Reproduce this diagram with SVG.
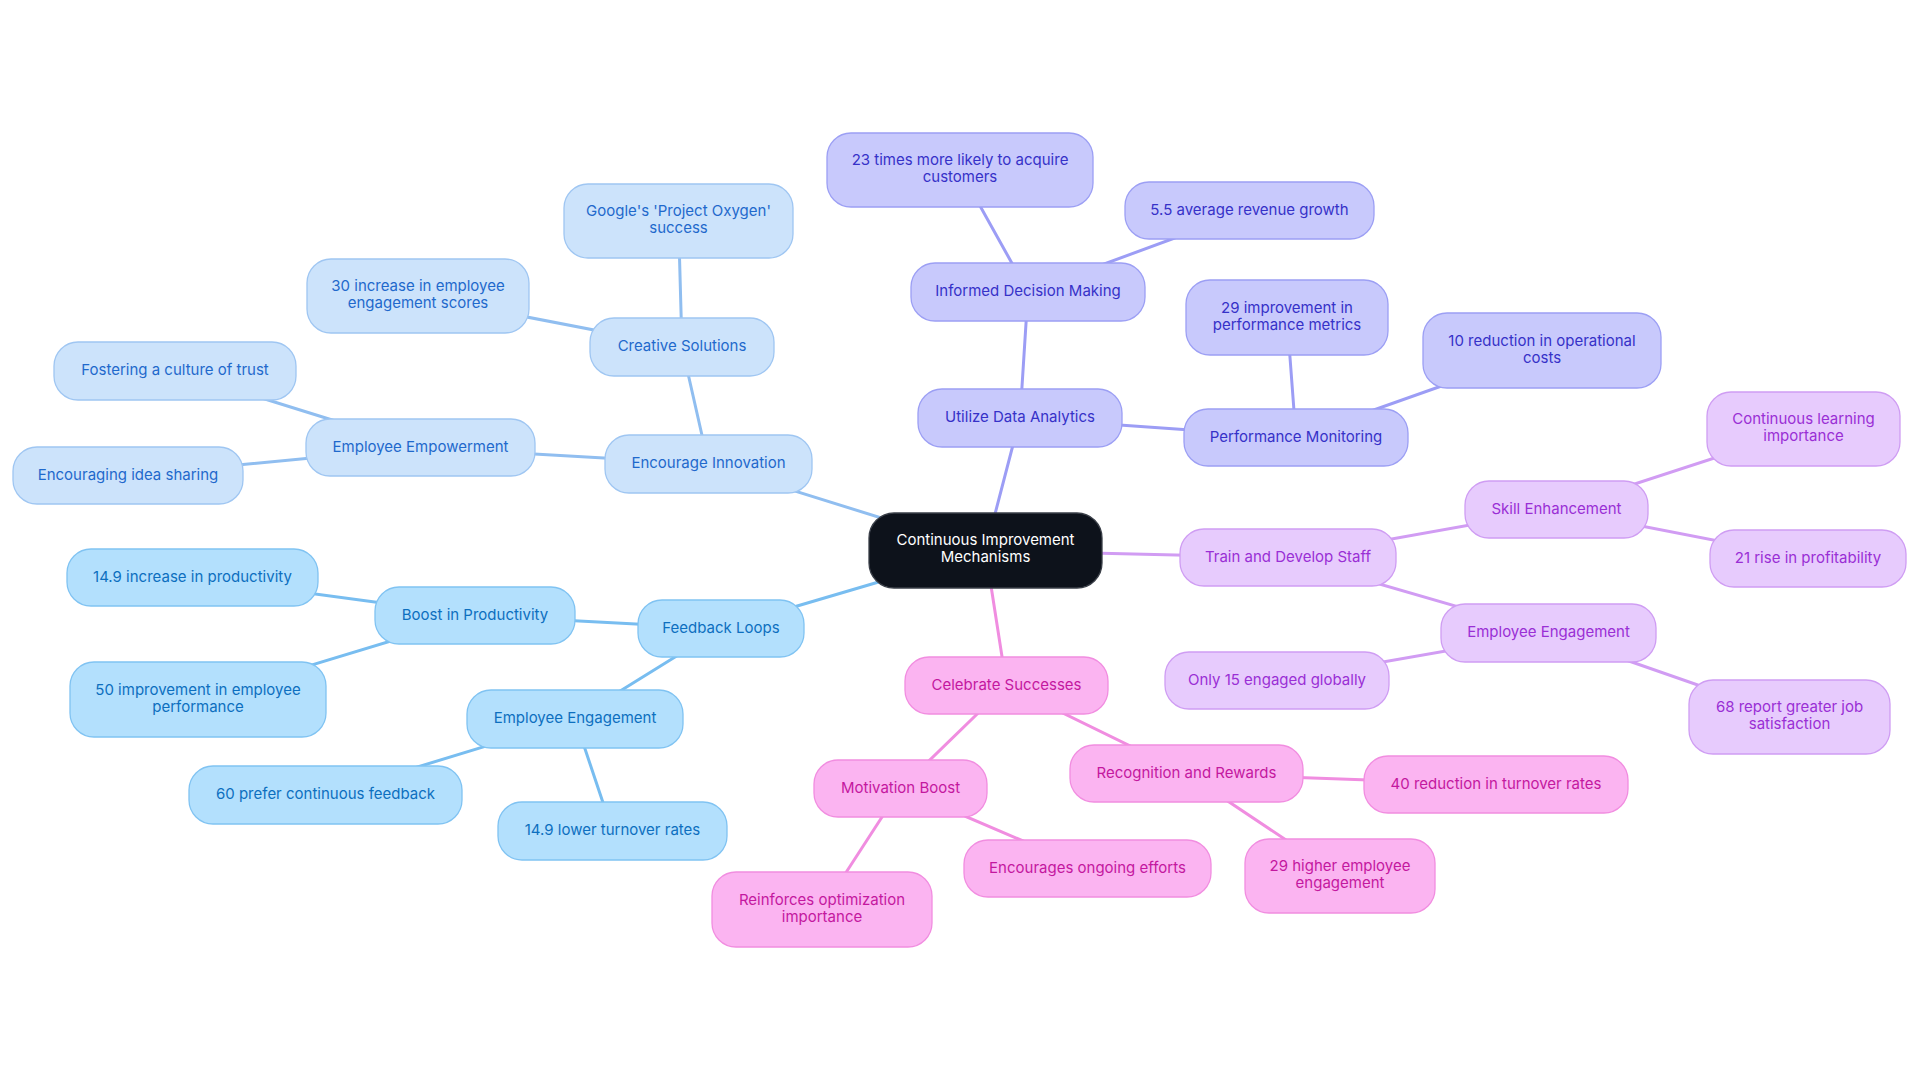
<svg xmlns="http://www.w3.org/2000/svg" width="1920" height="1083" viewBox="0 0 1920 1083">
<style>
text{font-family:Inter,"Open Sans","Liberation Sans",sans-serif;font-size:15px;text-anchor:middle}
g>text{transform:translateY(-1px)}
rect{stroke-width:1.3}
.c0 rect{fill:#0d121b;stroke:#3a3f48}.c0 text{fill:#ffffff}
.c1 rect{fill:#cce3fb;stroke:#9fc6f2}.c1 text{fill:#1f69cc}
.c2 rect{fill:#b3e0fd;stroke:#80c3f2}.c2 text{fill:#0d6fbf}
.c3 rect{fill:#c8c9fc;stroke:#9c9ff4}.c3 text{fill:#3631c8}
.c4 rect{fill:#e7cbfd;stroke:#cf9df3}.c4 text{fill:#9a2fd5}
.c5 rect{fill:#fbb4f1;stroke:#f18de0}.c5 text{fill:#c4189f}
#edges line{stroke-width:3;stroke-linecap:round}
.e1{stroke:#90bef0}.e2{stroke:#78bdf0}.e3{stroke:#9c9df5}.e4{stroke:#d19cf3}.e5{stroke:#f08de0}
</style>
<rect width="1920" height="1083" fill="#ffffff"/>
<g id="edges">
<line class="e1" x1="985.5" y1="550.5" x2="708.5" y2="464"/>
<line class="e1" x1="708.5" y1="464" x2="682" y2="347"/>
<line class="e1" x1="708.5" y1="464" x2="420.5" y2="447.5"/>
<line class="e1" x1="682" y1="347" x2="418" y2="296"/>
<line class="e1" x1="682" y1="347" x2="678.5" y2="221"/>
<line class="e1" x1="420.5" y1="447.5" x2="175" y2="371"/>
<line class="e1" x1="420.5" y1="447.5" x2="128" y2="475.5"/>
<line class="e2" x1="985.5" y1="550.5" x2="721" y2="628.5"/>
<line class="e2" x1="721" y1="628.5" x2="475" y2="615.5"/>
<line class="e2" x1="721" y1="628.5" x2="575" y2="719"/>
<line class="e2" x1="475" y1="615.5" x2="192.5" y2="577.5"/>
<line class="e2" x1="475" y1="615.5" x2="198" y2="699.5"/>
<line class="e2" x1="575" y1="719" x2="325.5" y2="795"/>
<line class="e2" x1="575" y1="719" x2="612.5" y2="831"/>
<line class="e3" x1="985.5" y1="550.5" x2="1020" y2="418"/>
<line class="e3" x1="1020" y1="418" x2="1028" y2="292"/>
<line class="e3" x1="1020" y1="418" x2="1296" y2="437.5"/>
<line class="e3" x1="1028" y1="292" x2="960" y2="170"/>
<line class="e3" x1="1028" y1="292" x2="1249.5" y2="210.5"/>
<line class="e3" x1="1296" y1="437.5" x2="1287" y2="317.5"/>
<line class="e3" x1="1296" y1="437.5" x2="1542" y2="350.5"/>
<line class="e4" x1="985.5" y1="550.5" x2="1288" y2="557.5"/>
<line class="e4" x1="1288" y1="557.5" x2="1556.5" y2="509.5"/>
<line class="e4" x1="1288" y1="557.5" x2="1548.5" y2="633"/>
<line class="e4" x1="1556.5" y1="509.5" x2="1803.5" y2="429"/>
<line class="e4" x1="1556.5" y1="509.5" x2="1808" y2="558.5"/>
<line class="e4" x1="1548.5" y1="633" x2="1277" y2="680.5"/>
<line class="e4" x1="1548.5" y1="633" x2="1789.5" y2="717"/>
<line class="e5" x1="985.5" y1="550.5" x2="1006.5" y2="685.5"/>
<line class="e5" x1="1006.5" y1="685.5" x2="900.5" y2="788.5"/>
<line class="e5" x1="1006.5" y1="685.5" x2="1186.5" y2="773.5"/>
<line class="e5" x1="1186.5" y1="773.5" x2="1496" y2="784.5"/>
<line class="e5" x1="1186.5" y1="773.5" x2="1340" y2="876"/>
<line class="e5" x1="900.5" y1="788.5" x2="1087.5" y2="868.5"/>
<line class="e5" x1="900.5" y1="788.5" x2="822" y2="909.5"/>
</g>
<g id="root" class="c0"><rect x="869" y="513" width="233" height="75" rx="25"/><text x="985.5" y="546">Continuous Improvement</text><text x="985.5" y="563">Mechanisms</text></g>
<g id="encourage-innovation" class="c1"><rect x="605" y="435" width="207" height="58" rx="24"/><text x="708.5" y="469">Encourage Innovation</text></g>
<g id="creative-solutions" class="c1"><rect x="590" y="318" width="184" height="58" rx="24"/><text x="682" y="352">Creative Solutions</text></g>
<g id="employee-empowerment" class="c1"><rect x="306" y="419" width="229" height="57" rx="24"/><text x="420.5" y="452.5">Employee Empowerment</text></g>
<g id="fostering-trust" class="c1"><rect x="54" y="342" width="242" height="58" rx="24"/><text x="175" y="376">Fostering a culture of trust</text></g>
<g id="idea-sharing" class="c1"><rect x="13" y="447" width="230" height="57" rx="24"/><text x="128" y="480.5">Encouraging idea sharing</text></g>
<g id="engagement-scores" class="c1"><rect x="307" y="259" width="222" height="74" rx="24"/><text x="418" y="292">30 increase in employee</text><text x="418" y="309">engagement scores</text></g>
<g id="project-oxygen" class="c1"><rect x="564" y="184" width="229" height="74" rx="24"/><text x="678.5" y="217">Google's 'Project Oxygen'</text><text x="678.5" y="234">success</text></g>
<g id="feedback-loops" class="c2"><rect x="638" y="600" width="166" height="57" rx="24"/><text x="721" y="633.5">Feedback Loops</text></g>
<g id="boost-productivity" class="c2"><rect x="375" y="587" width="200" height="57" rx="24"/><text x="475" y="620.5">Boost in Productivity</text></g>
<g id="increase-productivity" class="c2"><rect x="67" y="549" width="251" height="57" rx="24"/><text x="192.5" y="582.5">14.9 increase in productivity</text></g>
<g id="improvement-performance" class="c2"><rect x="70" y="662" width="256" height="75" rx="24"/><text x="198" y="696">50 improvement in employee</text><text x="198" y="713">performance</text></g>
<g id="employee-engagement-fb" class="c2"><rect x="467" y="690" width="216" height="58" rx="24"/><text x="575" y="724">Employee Engagement</text></g>
<g id="prefer-feedback" class="c2"><rect x="189" y="766" width="273" height="58" rx="24"/><text x="325.5" y="800">60 prefer continuous feedback</text></g>
<g id="lower-turnover" class="c2"><rect x="498" y="802" width="229" height="58" rx="24"/><text x="612.5" y="836">14.9 lower turnover rates</text></g>
<g id="data-analytics" class="c3"><rect x="918" y="389" width="204" height="58" rx="24"/><text x="1020" y="423">Utilize Data Analytics</text></g>
<g id="decision-making" class="c3"><rect x="911" y="263" width="234" height="58" rx="24"/><text x="1028" y="297">Informed Decision Making</text></g>
<g id="acquire-customers" class="c3"><rect x="827" y="133" width="266" height="74" rx="24"/><text x="960" y="166">23 times more likely to acquire</text><text x="960" y="183">customers</text></g>
<g id="revenue-growth" class="c3"><rect x="1125" y="182" width="249" height="57" rx="24"/><text x="1249.5" y="215.5">5.5 average revenue growth</text></g>
<g id="performance-monitoring" class="c3"><rect x="1184" y="409" width="224" height="57" rx="24"/><text x="1296" y="442.5">Performance Monitoring</text></g>
<g id="performance-metrics" class="c3"><rect x="1186" y="280" width="202" height="75" rx="24"/><text x="1287" y="314">29 improvement in</text><text x="1287" y="331">performance metrics</text></g>
<g id="operational-costs" class="c3"><rect x="1423" y="313" width="238" height="75" rx="24"/><text x="1542" y="347">10 reduction in operational</text><text x="1542" y="364">costs</text></g>
<g id="train-develop" class="c4"><rect x="1180" y="529" width="216" height="57" rx="24"/><text x="1288" y="562.5">Train and Develop Staff</text></g>
<g id="skill-enhancement" class="c4"><rect x="1465" y="481" width="183" height="57" rx="24"/><text x="1556.5" y="514.5">Skill Enhancement</text></g>
<g id="continuous-learning" class="c4"><rect x="1707" y="392" width="193" height="74" rx="24"/><text x="1803.5" y="425">Continuous learning</text><text x="1803.5" y="442">importance</text></g>
<g id="profitability" class="c4"><rect x="1710" y="530" width="196" height="57" rx="24"/><text x="1808" y="563.5">21 rise in profitability</text></g>
<g id="employee-engagement-td" class="c4"><rect x="1441" y="604" width="215" height="58" rx="24"/><text x="1548.5" y="638">Employee Engagement</text></g>
<g id="engaged-globally" class="c4"><rect x="1165" y="652" width="224" height="57" rx="24"/><text x="1277" y="685.5">Only 15 engaged globally</text></g>
<g id="job-satisfaction" class="c4"><rect x="1689" y="680" width="201" height="74" rx="24"/><text x="1789.5" y="713">68 report greater job</text><text x="1789.5" y="730">satisfaction</text></g>
<g id="celebrate-successes" class="c5"><rect x="905" y="657" width="203" height="57" rx="24"/><text x="1006.5" y="690.5">Celebrate Successes</text></g>
<g id="motivation-boost" class="c5"><rect x="814" y="760" width="173" height="57" rx="24"/><text x="900.5" y="793.5">Motivation Boost</text></g>
<g id="recognition-rewards" class="c5"><rect x="1070" y="745" width="233" height="57" rx="24"/><text x="1186.5" y="778.5">Recognition and Rewards</text></g>
<g id="reduction-turnover" class="c5"><rect x="1364" y="756" width="264" height="57" rx="24"/><text x="1496" y="789.5">40 reduction in turnover rates</text></g>
<g id="ongoing-efforts" class="c5"><rect x="964" y="840" width="247" height="57" rx="24"/><text x="1087.5" y="873.5">Encourages ongoing efforts</text></g>
<g id="higher-engagement" class="c5"><rect x="1245" y="839" width="190" height="74" rx="24"/><text x="1340" y="872">29 higher employee</text><text x="1340" y="889">engagement</text></g>
<g id="optimization-importance" class="c5"><rect x="712" y="872" width="220" height="75" rx="24"/><text x="822" y="906">Reinforces optimization</text><text x="822" y="923">importance</text></g>
</svg>
